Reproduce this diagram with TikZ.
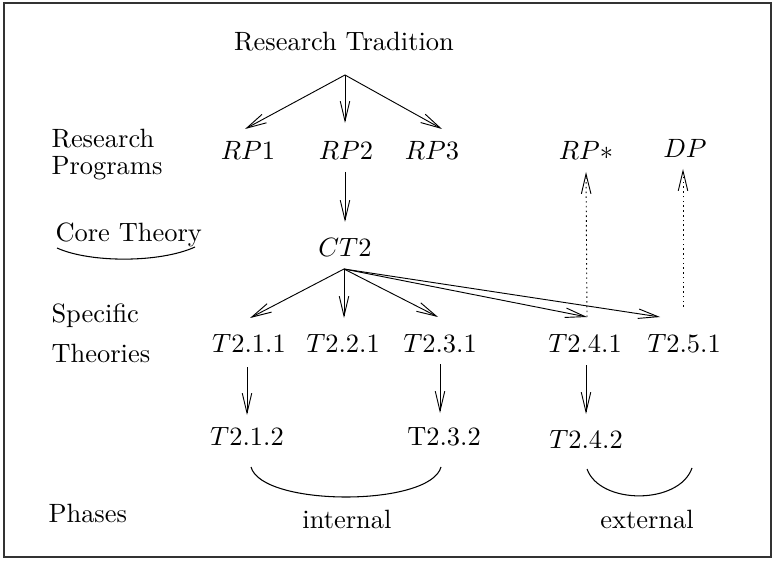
\documentclass[tikz,border=0pt]{standalone}
\usetikzlibrary{arrows.meta}
\begin{document}
\begin{tikzpicture}[x=0.378pt,y=-0.378pt,
  lbl/.style={anchor=base,inner sep=0pt},
  side/.style={anchor=base west,inner sep=0pt},
  arr/.style={-{Straight Barb[length=7.5pt,width=3.6pt]},line width=0.35pt},
  dotarr/.style={arr,dash pattern=on 0.6pt off 1.2pt},
  brace/.style={line width=0.4pt}]
\useasboundingbox (0,0) rectangle (774,560);
\draw[line width=0.5pt,black!80] (4,3) rectangle (771,557);
% texts
\node[lbl] (rt) at (344,51) {Research Tradition};
\node[side] (lres) at (51,148) {Research};
\node[side] (lprog) at (51,175) {Programs};
\node[side] (lcore) at (55,242) {Core Theory};
\node[side] (lspec) at (51,323) {Specific};
\node[side] (ltheo) at (51,362) {Theories};
\node[side] (lpha) at (48,522) {Phases};
\node[lbl] (rp1) at (248,160) {$RP1$};
\node[lbl] (rp2) at (346,160) {$RP2$};
\node[lbl] (rp3) at (432,160) {$RP3$};
\node[lbl] (rps) at (586,160) {$RP*$};
\node[lbl] (dp) at (685,158) {$DP$};
\node[lbl] (ct2) at (345,257) {$CT2$};
\node[lbl] (t211) at (249,352) {$T2.1.1$};
\node[lbl] (t221) at (343,352) {$T2.2.1$};
\node[lbl] (t231) at (440,352) {$T2.3.1$};
\node[lbl] (t241) at (585,352) {$T2.4.1$};
\node[lbl] (t251) at (684,352) {$T2.5.1$};
\node[lbl] (t212) at (247,445) {$T2.1.2$};
\node[lbl] (t232) at (444,445) {T2.3.2};
\node[lbl] (t242) at (586,448) {$T2.4.2$};
\node[lbl] (int) at (347,528) {internal};
\node[lbl] (ext) at (647,528) {external};
% connector points
\coordinate (rtout) at (345,75);
\coordinate (rp1in) at (245,129);
\coordinate (rp2in) at (345,123);
\coordinate (rp3in) at (442,129);
\coordinate (rp2out) at (345,172);
\coordinate (ct2in) at (345,222);
\coordinate (ct2out) at (344,269);
\coordinate (t211in) at (250,318);
\coordinate (t221in) at (344,318);
\coordinate (t231in) at (438,317);
\coordinate (t241in) at (587,317);
\coordinate (t251in) at (660,317);
\coordinate (t211out) at (247,367);
\coordinate (t212in) at (247,415);
\coordinate (t231out) at (440,364);
\coordinate (t232in) at (440,413);
\coordinate (t241out) at (586,365);
\coordinate (t242in) at (586,414);
\coordinate (rpsin) at (586,172);
\coordinate (dpout) at (683,307);
\coordinate (dpin) at (683,169);
% arrows
\draw[arr] (rtout) -- (rp1in);
\draw[arr] (rtout) -- (rp2in);
\draw[arr] (rtout) -- (rp3in);
\draw[arr] (rp2out) -- (ct2in);
\draw[arr] (ct2out) -- (t211in);
\draw[arr] (ct2out) -- (t221in);
\draw[arr] (ct2out) -- (t231in);
\draw[arr] (ct2out) -- (t241in);
\draw[arr] (ct2out) -- (t251in);
\draw[arr] (t211out) -- (t212in);
\draw[arr] (t231out) -- (t232in);
\draw[arr] (t241out) -- (t242in);
\draw[dotarr] (t241in) -- (rpsin);
\draw[dotarr] (dpout) -- (dpin);
% arcs
\coordinate (ca) at (57,248);
\coordinate (cb) at (195,247);
\draw[brace] (ca) .. controls (90,263) and (160,263) .. (cb);
\coordinate (ia) at (251,467);
\coordinate (ib) at (441,467);
\draw[brace] (ia) .. controls (262,507) and (430,507) .. (ib);
\coordinate (ea) at (587,469);
\coordinate (eb) at (692,468);
\draw[brace] (ea) .. controls (600,505) and (679,505) .. (eb);
\end{tikzpicture}
\end{document}
